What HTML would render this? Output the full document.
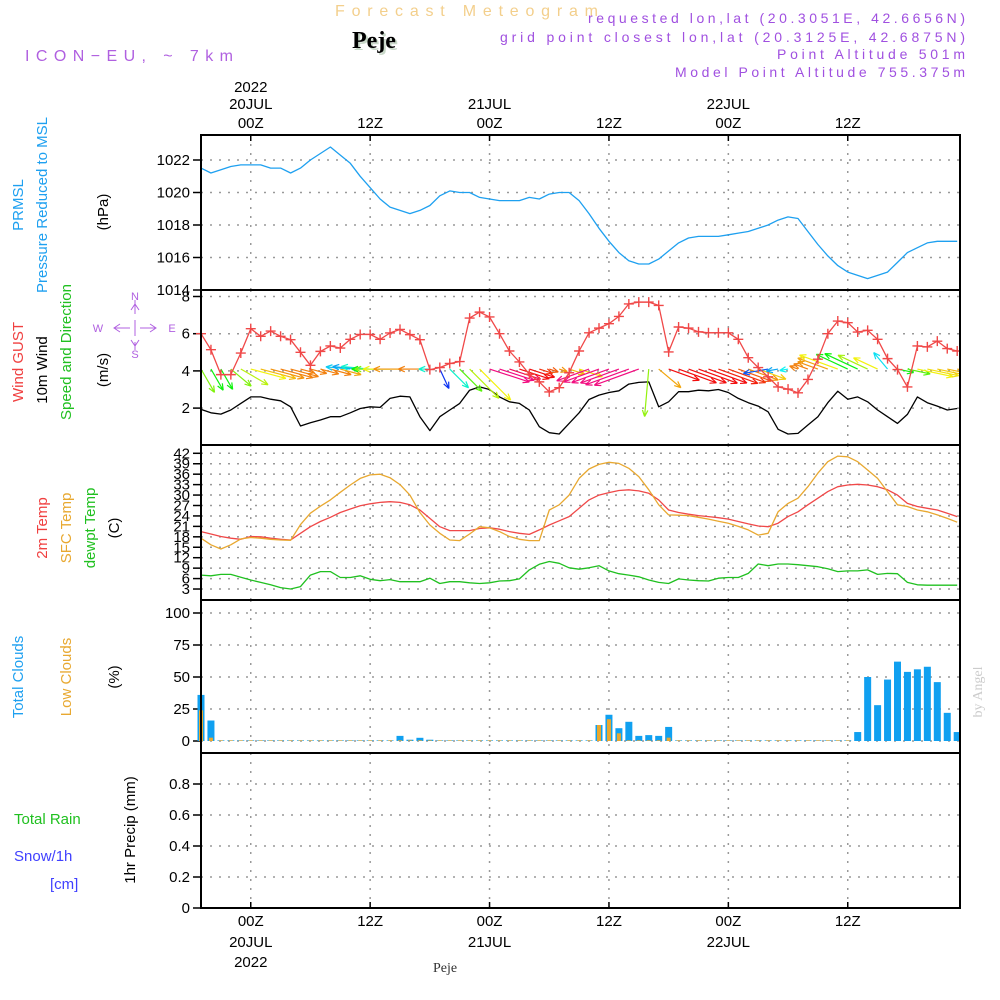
<!DOCTYPE html>
<html><head><meta charset="utf-8"><style>
html,body{margin:0;padding:0;background:#fff;}
svg{display:block;font-family:"Liberation Sans",sans-serif;}
</style></head><body>
<svg id="chart" width="1000" height="1000" viewBox="0 0 1000 1000" xmlns="http://www.w3.org/2000/svg">
<defs><clipPath id="plotclip"><rect x="201" y="130" width="759" height="780"/></clipPath></defs>
<rect x="0" y="0" width="1000" height="1000" fill="#fff"/>
<text x="335" y="16" font-size="16" fill="#f3cf8c" textLength="263" lengthAdjust="spacing">Forecast Meteogram</text>
<text x="354" y="50" font-size="24" font-weight="bold" font-family="Liberation Serif,serif" fill="#c8d8c8">Peje</text>
<text x="352" y="48" font-size="24" font-weight="bold" font-family="Liberation Serif,serif" fill="#000">Peje</text>
<text x="25" y="61" font-size="16" fill="#b060e0" textLength="208" lengthAdjust="spacing">ICON−EU, ~ 7km</text>
<text x="588" y="23" font-size="14" fill="#a050e0" textLength="377" lengthAdjust="spacing">requested lon,lat (20.3051E, 42.6656N)</text>
<text x="500" y="42" font-size="14" fill="#a050e0" textLength="465" lengthAdjust="spacing">grid point closest lon,lat (20.3125E, 42.6875N)</text>
<text x="777" y="59" font-size="14" fill="#a050e0" textLength="188" lengthAdjust="spacing">Point Altitude 501m</text>
<text x="675" y="77" font-size="14" fill="#a050e0" textLength="290" lengthAdjust="spacing">Model Point Altitude 755.375m</text>

<g font-size="15" text-anchor="middle">
<text transform="translate(23,205) rotate(-90)" fill="#1ea0f0">PRMSL</text>
<text transform="translate(47,205) rotate(-90)" fill="#1ea0f0">Pressure Reduced to MSL</text>
<text transform="translate(108,212) rotate(-90)" fill="#000">(hPa)</text>
<text transform="translate(23,362) rotate(-90)" fill="#f04040">Wind GUST</text>
<text transform="translate(47,370) rotate(-90)" fill="#000">10m Wind</text>
<text transform="translate(71,352) rotate(-90)" fill="#20c020">Speed and Direction</text>
<text transform="translate(108,370) rotate(-90)" fill="#000">(m/s)</text>
<text transform="translate(47,528) rotate(-90)" fill="#f04040">2m Temp</text>
<text transform="translate(71,528) rotate(-90)" fill="#e8a830">SFC Temp</text>
<text transform="translate(95,528) rotate(-90)" fill="#20c020">dewpt Temp</text>
<text transform="translate(119,528) rotate(-90)" fill="#000">(C)</text>
<text transform="translate(23,677) rotate(-90)" fill="#1ea0f0">Total Clouds</text>
<text transform="translate(71,677) rotate(-90)" fill="#e8a830">Low Clouds</text>
<text transform="translate(119,677) rotate(-90)" fill="#000">(%)</text>
<text transform="translate(135,830) rotate(-90)" fill="#000">1hr Precip (mm)</text>
</g>
<text x="14" y="824" font-size="15" fill="#20c020">Total  Rain</text>
<text x="14" y="861" font-size="15" fill="#4040ff">Snow/1h</text>
<text x="50" y="889" font-size="15" fill="#4040ff">[cm]</text>
<g fill="none" stroke="#b060e0" stroke-width="1">
<path d="M115,328H130M140,328H155M135,320V336M135,300V314M135,342V350M120,324L114,328L120,332M150,324L156,328L150,332M131,310L135,304L139,310M131,340L135,346L139,340"/>
<text x="98" y="332" font-size="11" fill="#b060e0" stroke="none" text-anchor="middle">W</text>
<text x="172" y="332" font-size="11" fill="#b060e0" stroke="none" text-anchor="middle">E</text>
<text x="135" y="300" font-size="11" fill="#b060e0" stroke="none" text-anchor="middle">N</text>
<text x="135" y="358" font-size="11" fill="#b060e0" stroke="none" text-anchor="middle">S</text>
</g>
<text transform="translate(982,692) rotate(-90)" font-family="Liberation Serif,serif" font-size="14" fill="#ccc" text-anchor="middle">by Angel</text>
<text x="445" y="972" font-family="Liberation Serif,serif" font-size="14" fill="#333" text-anchor="middle">Peje</text>
<g id="plot"></g>
</svg>
<script>
const hours = Array.from({length:77},(_,i)=>i); // hour 0 = 19Z 19JUL
const pressure=[1021.5,1021.2,1021.4,1021.6,1021.7,1021.7,1021.7,1021.5,1021.5,1021.2,1021.5,1022.0,1022.4,1022.8,1022.3,1021.8,1021.0,1020.3,1019.6,1019.1,1018.9,1018.7,1018.9,1019.2,1019.8,1020.1,1020.0,1020.0,1019.7,1019.6,1019.5,1019.5,1019.5,1019.7,1019.6,1019.9,1020.0,1020.0,1019.5,1018.7,1017.8,1017.0,1016.3,1015.8,1015.6,1015.6,1015.9,1016.4,1016.9,1017.2,1017.3,1017.3,1017.3,1017.4,1017.5,1017.6,1017.8,1018.0,1018.3,1018.5,1018.4,1017.6,1016.8,1016.1,1015.5,1015.1,1014.9,1014.7,1014.9,1015.1,1015.7,1016.3,1016.6,1016.9,1017.0,1017.0,1017.0];
const gust=[6.0,5.14,3.8,3.8,4.96,6.27,5.86,6.14,5.86,5.68,5.0,4.3,5.05,5.34,5.23,5.7,5.96,5.96,5.7,6.04,6.23,5.95,5.68,4.07,4.18,4.4,4.5,6.84,7.16,6.9,6.0,5.07,4.48,3.82,3.41,2.87,3.1,3.9,5.07,6.05,6.3,6.54,6.93,7.6,7.7,7.7,7.52,5.02,6.36,6.3,6.1,6.05,6.05,6.05,5.7,4.71,4.18,3.68,3.14,3.02,2.82,3.54,4.63,6.0,6.68,6.59,6.09,6.18,5.7,4.66,4.07,3.14,5.34,5.29,5.6,5.2,5.07];
const windSpeed=[1.93,1.75,1.68,1.9,2.25,2.6,2.6,2.48,2.39,2.07,1.04,1.21,1.36,1.54,1.54,1.75,1.98,2.07,2.04,2.52,2.64,2.6,1.54,0.79,1.54,1.9,2.25,2.96,3.14,3.0,2.6,2.34,2.25,1.9,1.0,0.68,0.61,1.18,1.75,2.46,2.7,2.84,2.93,3.29,3.38,3.41,2.07,2.34,2.88,2.88,2.96,2.93,3.0,2.84,2.52,2.29,2.11,1.8,0.86,0.61,0.64,1.09,1.54,2.29,2.91,2.48,2.6,2.34,1.9,1.54,1.18,1.66,2.6,2.29,2.11,1.9,1.98];
const windDir=[60,60,60,40,30,15,15,15,15,15,15,15,15,15,15,185,185,185,180,180,180,180,180,180,65,45,45,45,45,18,18,18,18,18,18,18,18,18,18,160,160,160,160,160,160,95,40,20,20,20,20,20,20,20,20,20,20,170,170,170,200,200,200,200,200,205,205,205,205,230,12,12,12,12,12,12,12];
const temp2m=[19.5,18.8,18.1,17.6,17.3,18.1,18.0,17.6,17.3,17.1,19.0,20.9,22.4,23.6,25.0,26.0,26.9,27.5,27.9,28.1,27.9,27.2,25.7,23.3,20.9,19.8,19.8,19.8,20.4,20.6,20.2,19.5,19.0,18.7,20.0,21.4,22.6,23.8,26.2,28.6,30.0,30.7,31.3,31.5,31.2,30.5,28.6,25.7,25.0,24.5,24.1,23.8,23.5,23.1,22.4,21.7,21.1,20.9,21.9,23.8,25.2,27.2,29.1,31.0,32.4,32.9,33.1,32.9,32.4,31.5,30.0,27.6,26.7,26.2,25.7,24.8,23.8];
const tempSfc=[17.6,15.7,14.5,15.7,17.4,17.8,17.6,17.3,17.1,17.0,21.5,24.8,26.8,28.6,30.8,32.9,34.8,35.8,36.0,35.0,33.0,30.0,25.0,21.4,19.0,17.1,16.9,18.8,20.9,20.6,19.5,18.1,17.3,16.9,16.9,25.7,27.2,30.0,34.8,37.5,38.8,39.4,39.1,37.7,35.3,31.5,27.2,24.3,24.2,24.1,23.6,23.1,22.5,21.9,21.0,20.0,18.5,19.0,25.2,27.6,29.1,32.4,36.3,39.6,41.2,41.0,39.6,37.2,34.8,31.0,27.2,26.7,25.7,25.2,24.3,23.3,22.2];
const dewpt=[7.0,6.8,7.2,7.2,6.4,5.6,4.9,4.2,3.4,3.0,3.7,7.0,8.0,8.0,6.3,6.3,6.8,5.8,5.4,5.7,5.1,5.1,5.1,6.1,4.6,5.1,5.1,4.8,4.6,4.8,5.3,5.4,5.9,8.5,10.1,10.9,10.4,9.1,8.7,9.1,9.7,8.2,7.4,7.0,6.5,5.6,4.9,4.6,5.9,5.6,5.4,5.3,6.1,6.3,6.3,7.5,10.2,9.7,10.2,10.2,10.0,9.7,9.4,8.8,8.0,8.2,8.2,8.5,7.2,7.5,7.4,4.9,4.2,4.1,4.1,4.1,4.1];
const totalClouds=[36,16,0.5,0.5,0.5,0.5,0.5,0.5,0.5,0.5,0.5,0.5,0.5,0.5,0.5,0.5,0.5,0.5,0.5,0.5,4,1,2.5,1,0.5,0.5,0.5,0.5,0.5,0.5,0.5,0.5,0.5,0.5,0.5,0.5,0.5,0.5,0.5,0.5,12.5,20.5,10,15,4,4.6,4,11,0.5,0.5,0.5,0.5,0.5,0.5,0.5,0.5,0.5,0.5,0.5,0.5,0.5,0.5,0.5,0.5,0.5,0.5,7,50,28,48,62,54,56,58,46,22,7];
const lowClouds=[24,2.6,0.5,0.5,0.5,0.5,0.5,0.5,0.5,0.5,0.5,0.5,0.5,0.5,0.5,0.5,0.5,0.5,0.5,0.5,0.5,0.5,0.5,0.5,0.5,0.5,0.5,0.5,0.5,0.5,0.5,0.5,0.5,0.5,0.5,0.5,0.5,0.5,0.5,0.5,12.5,17,6,0.5,0.5,0.5,0.5,2.6,0.5,0.5,0.5,0.5,0.5,0.5,0.5,0.5,0.5,0.5,0.5,0.5,0.5,0.5,0.5,0.5,0.5,0.5,0,0,0,0,0,0,0,0,0,0,0];
const precip=new Array(77).fill(0);
const pressureTicks=[1014,1016,1018,1020,1022];
const windTicks=[2,4,6,8];
const tempTicks=[3,6,9,12,15,18,21,24,27,30,33,36,39,42];
const cloudTicks=[0,25,50,75,100];
const precipTicks=[0,0.2,0.4,0.6,0.8];
const timeTickHours=[5,17,29,41,53,65];
const timeTickLabels=["00Z","12Z","00Z","12Z","00Z","12Z"];
const arrowHue=[90,120,120,90,75,60,45,35,30,30,30,30,30,30,40,190,200,170,120,90,60,35,30,170,230,170,100,75,60,330,330,340,0,0,10,20,35,45,55,330,330,330,330,330,330,85,40,0,0,0,0,0,5,10,20,35,50,220,200,180,30,30,35,40,60,120,120,80,60,185,120,100,60,55,50,45,40];

const NS="http://www.w3.org/2000/svg";
const plot=document.getElementById('plot');
const X0=201,X1=960;
function xH(h){return 201+h*9.95;}
function yP(v){return 290-(v-1014)*16.25;}
function yW(v){return 445.3-v*18.6;}
function yT(v){return 453.3+(42-v)*3.48;}
function yC(v){return 741-v*1.28;}
function yR(v){return 908-v*155;}
const panels=[[135,290],[290,445],[445,600],[600,753],[753,908]];
function mk(tag,attrs,parent){const e=document.createElementNS(NS,tag);for(const k in attrs)e.setAttribute(k,attrs[k]);(parent||plot).appendChild(e);return e;}

const grid=mk('g',{});


panels.forEach(p=>{timeTickHours.forEach(h=>{
 const l=mk('line',{x1:xH(h),x2:xH(h),y1:p[0],y2:p[1],stroke:'#999','stroke-dasharray':'2,7','stroke-width':1.5},grid);
 
 
});});
function hgrid(ticks,fy,labels,name){
 ticks.forEach((t,i)=>{
  const y=fy(t);
  const l=mk('line',{x1:X0,x2:X1,y1:y,y2:y,stroke:'#999','stroke-dasharray':'2,7','stroke-width':1.5},grid);
  
  
  const tk=mk('line',{x1:X0-8,x2:X0,y1:y,y2:y,stroke:'#000','stroke-width':1.5});
  
  
  const tx=mk('text',{x:X0-11,y:y+5,'font-size':15,'text-anchor':'end',fill:'#000'});
  tx.textContent=labels?labels[i]:String(t);
  
  
 });
}
hgrid(pressureTicks,yP,null,'pressure');
hgrid(windTicks,yW,null,'wind');
hgrid(tempTicks,yT,null,'temp');
hgrid(cloudTicks,yC,null,'cloud');
hgrid(precipTicks,yR,precipTicks.map(v=>v===0?'0':v.toFixed(1)),'precip');

timeTickHours.forEach((h,i)=>{
 const x=xH(h);
 const t1=mk('text',{x:x,y:128,'font-size':15,'text-anchor':'middle',fill:'#000'});
 t1.textContent=timeTickLabels[i];
 
 
 const t2=mk('text',{x:x,y:926,'font-size':15,'text-anchor':'middle',fill:'#000'});
 t2.textContent=timeTickLabels[i];
 
 
 [[135,141],[902,908]].forEach(r=>{const tk=mk('line',{x1:x,x2:x,y1:r[0],y2:r[1],stroke:'#000','stroke-width':1.5});
 
 });
});
const dateLabels=[[5,'20JUL'],[29,'21JUL'],[53,'22JUL']];
dateLabels.forEach(d=>{
 const a=mk('text',{x:xH(d[0]),y:109,'font-size':15,'text-anchor':'middle',fill:'#000'});a.textContent=d[1];
 
 
 const b=mk('text',{x:xH(d[0]),y:947,'font-size':15,'text-anchor':'middle',fill:'#000'});b.textContent=d[1];
 
 
});
const y1=mk('text',{x:xH(5),y:92,'font-size':15,'text-anchor':'middle',fill:'#000'});y1.textContent='2022';


const y2=mk('text',{x:xH(5),y:967,'font-size':15,'text-anchor':'middle',fill:'#000'});y2.textContent='2022';



function line(vals,fy,color,name,w){
 const pts=vals.map((v,i)=>xH(hours[i]).toFixed(1)+','+fy(v).toFixed(1)).join(' ');
 const p=mk('polyline',{points:pts,fill:'none',stroke:color,'stroke-width':w||1.3,'stroke-linejoin':'round'});
 
 
}
line(pressure,yP,'#1ea0f0','pressure-line');
line(windSpeed,yW,'#000','wind-speed-line');
const arrows=mk('g',{'clip-path':'url(#plotclip)'});


windSpeed.forEach((s,i)=>{
 const x=xH(hours[i]),y=yW(4.1);
 const a=windDir[i]*Math.PI/180,L=s*14;
 const hx=x+Math.cos(a)*L,hy=y+Math.sin(a)*L;
 const b1=a+Math.PI-0.4,b2=a+Math.PI+0.4;
 const c=`hsl(${(arrowHue[i]+360)%360},90%,50%)`;
 const ar=mk('path',{d:`M${x},${y}L${hx},${hy}M${hx},${hy}L${hx+Math.cos(b1)*7},${hy+Math.sin(b1)*7}M${hx},${hy}L${hx+Math.cos(b2)*7},${hy+Math.sin(b2)*7}`,stroke:c,'stroke-width':1.2,fill:'none'},arrows);
 
 
});
line(gust,yW,'#f04848','wind-gust-line');
gust.forEach((v,i)=>{
 const x=xH(hours[i]),y=yW(v);
 const m=mk('path',{d:`M${x-5},${y}H${x+5}M${x},${y-5}V${y+5}`,stroke:'#f04848','stroke-width':1.4});
 
 
});
line(temp2m,yT,'#f04848','temp-2m-line');
line(tempSfc,yT,'#e8a830','temp-sfc-line');
line(dewpt,yT,'#20c020','dewpt-line');
totalClouds.forEach((v,i)=>{
 const x=xH(hours[i]);
 const r=mk('rect',{x:x-3.5,y:yC(v),width:7,height:yC(0)-yC(v),fill:'#10a0f0'});
 
 
});
lowClouds.forEach((v,i)=>{
 if(v<=0)return;
 const x=xH(hours[i]);
 const r=mk('rect',{x:x-2,y:yC(v),width:4,height:yC(0)-yC(v),fill:'#e8a830'});
 
 
});
precip.forEach((v,i)=>{
 if(v<=0)return;
 const x=xH(hours[i]);
 const r=mk('rect',{x:x-3.5,y:yR(v),width:7,height:yR(0)-yR(v),fill:'#20c020'});
 
 
});
const m1=mk('rect',{x:X1+1,y:130,width:12,height:780,fill:'#fff'});


panels.forEach((p,i)=>{
 const r=mk('rect',{x:X0,y:p[0],width:X1-X0,height:p[1]-p[0],fill:'none',stroke:'#000','stroke-width':2});
 
 
});
</script>
</body></html>
